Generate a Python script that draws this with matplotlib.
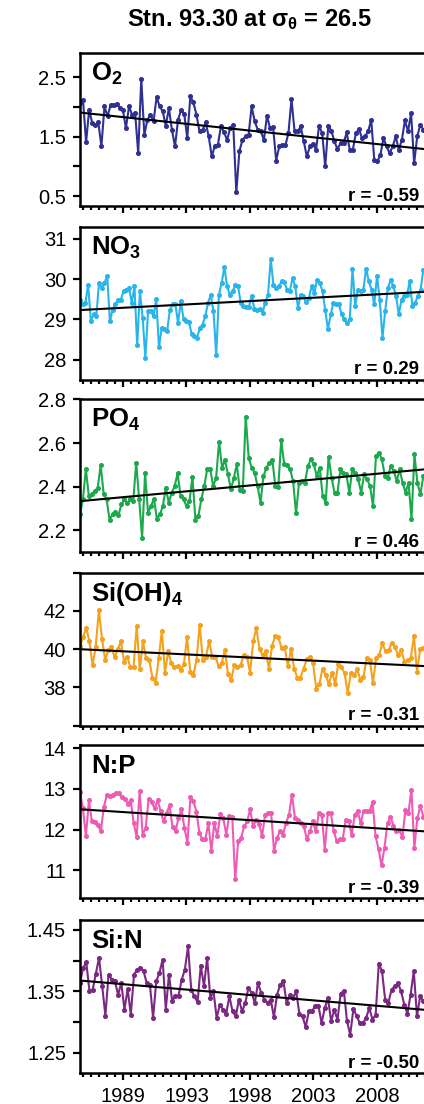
import matplotlib.pyplot as plt
import numpy as np

plt.rcParams['font.family'] = ['Liberation Sans', 'DejaVu Sans']
plt.rcParams['mathtext.default'] = 'regular'

# Valores (series trimestrales, Stn. 93.30, sigma_theta = 26.5)
o2 = [2.063, 2.119, 1.402, 1.951, 1.727, 1.699, 1.738, 1.335, 2.007, 1.839,
      2.035, 2.035, 2.052, 1.979, 1.951, 1.643, 2.007, 1.867, 1.895, 1.223,
      2.466, 1.531, 1.783, 1.867, 1.755, 2.164, 2.007, 1.923, 1.682, 1.979,
      1.615, 1.335, 1.783, 1.951, 1.884, 1.475, 2.175, 2.074, 1.867, 1.587,
      1.615, 1.738, 1.503, 1.167, 1.346, 1.363, 1.682, 1.570, 1.447, 1.643,
      1.699, 0.562, 1.251, 1.447, 1.503, 1.531, 2.007, 1.755, 1.615, 1.587,
      1.447, 1.850, 1.643, 1.654, 1.099, 1.335, 1.352, 1.352, 1.559, 2.130,
      1.587, 1.587, 1.671, 1.419, 1.167, 1.335, 1.380, 1.279, 1.682, 1.559,
      0.999, 1.682, 1.598, 1.419, 1.290, 1.391, 1.391, 1.570, 1.279, 1.279,
      1.559, 1.626, 1.475, 1.503, 1.587, 1.783, 1.111, 1.083, 1.195, 1.475,
      1.335, 1.223, 1.335, 1.503, 1.279, 1.447, 1.772, 1.587, 1.895, 1.055,
      1.503, 1.699, 1.615]

no3 = [29.49, 29.37, 29.41, 29.86, 28.97, 29.12, 29.09, 29.90, 29.78, 29.90,
       30.08, 28.95, 29.24, 29.37, 29.49, 29.49, 29.70, 29.74, 29.78, 29.41,
       29.82, 28.35, 29.70, 29.04, 28.05, 29.20, 29.20, 29.08, 29.51, 28.30,
       28.79, 28.75, 28.71, 29.23, 29.37, 29.37, 28.91, 29.45, 29.01, 28.97,
       28.93, 28.63, 28.58, 28.54, 28.79, 28.87, 29.08, 29.41, 29.61, 29.20,
       28.11, 29.61, 29.90, 30.30, 29.82, 29.61, 29.70, 29.84, 29.82, 29.41,
       29.33, 29.31, 29.31, 29.59, 29.26, 29.24, 29.26, 29.16, 29.41, 29.61,
       30.49, 29.86, 29.78, 29.82, 29.94, 29.92, 29.74, 29.70, 30.02, 29.82,
       29.28, 29.61, 29.57, 29.42, 29.53, 29.82, 29.65, 29.98, 29.90, 29.70,
       29.23, 28.75, 29.12, 29.41, 29.37, 29.37, 29.12, 29.00, 28.91, 29.00,
       30.26, 29.33, 29.74, 29.70, 29.74, 30.26, 29.94, 29.74, 29.37, 30.08,
       29.49, 28.54, 29.20, 29.78, 29.98, 29.82, 29.57, 29.12, 29.49, 29.59,
       29.61, 29.94, 29.33, 29.41, 29.57, 29.74, 30.23]

po4 = [2.273, 2.342, 2.482, 2.357, 2.365, 2.380, 2.395, 2.499, 2.368, 2.342,
       2.250, 2.273, 2.284, 2.269, 2.319, 2.342, 2.324, 2.342, 2.334, 2.510,
       2.342, 2.166, 2.461, 2.281, 2.311, 2.345, 2.253, 2.273, 2.311, 2.395,
       2.327, 2.373, 2.403, 2.461, 2.357, 2.342, 2.311, 2.334, 2.446, 2.250,
       2.266, 2.342, 2.403, 2.482, 2.482, 2.403, 2.441, 2.606, 2.487, 2.522,
       2.456, 2.388, 2.441, 2.502, 2.385, 2.380, 2.721, 2.533, 2.487, 2.464,
       2.403, 2.327, 2.449, 2.487, 2.510, 2.522, 2.403, 2.400, 2.612, 2.502,
       2.498, 2.479, 2.426, 2.278, 2.418, 2.426, 2.418, 2.495, 2.525, 2.502,
       2.449, 2.487, 2.357, 2.327, 2.537, 2.441, 2.373, 2.373, 2.482, 2.464,
       2.456, 2.373, 2.479, 2.464, 2.434, 2.373, 2.456, 2.434, 2.403, 2.311,
       2.540, 2.556, 2.525, 2.449, 2.441, 2.495, 2.472, 2.426, 2.479, 2.418,
       2.373, 2.418, 2.253, 2.548, 2.418, 2.365, 2.449]

sioh4 = [40.18, 40.63, 41.11, 40.41, 39.17, 40.14, 42.03, 40.53, 39.44, 39.96,
         40.11, 39.58, 40.00, 40.41, 39.35, 39.58, 39.08, 39.05, 41.20, 38.94,
         40.41, 39.52, 39.44, 38.52, 38.24, 39.52, 40.97, 38.77, 39.88, 39.26,
         39.05, 39.12, 38.91, 39.22, 40.63, 38.82, 38.64, 39.44, 41.29, 39.44,
         39.61, 40.41, 39.61, 39.61, 39.12, 39.26, 39.96, 38.70, 38.38, 39.17,
         39.08, 39.17, 39.70, 39.61, 38.78, 40.41, 41.11, 40.00, 39.70, 39.88,
         38.99, 40.18, 40.70, 40.63, 40.05, 40.11, 39.12, 40.00, 38.99, 38.52,
         38.52, 38.99, 39.47, 39.61, 39.26, 37.94, 38.17, 38.99, 38.64, 38.17,
         38.77, 38.20, 39.22, 39.08, 38.73, 37.71, 38.77, 38.64, 38.94, 38.41,
         38.56, 39.52, 39.44, 38.24, 39.52, 39.70, 40.32, 39.88, 39.96, 40.35,
         40.11, 39.70, 39.96, 39.35, 39.44, 39.52, 40.67, 38.82, 40.00, 40.05]

n_p = [12.92, 12.52, 11.84, 12.72, 12.20, 12.18, 12.12, 11.96, 12.56, 12.84,
       12.82, 12.86, 12.90, 12.90, 12.80, 12.76, 12.64, 12.72, 12.16, 11.82,
       12.94, 11.88, 12.04, 12.76, 12.68, 12.52, 12.72, 12.46, 12.20, 12.40,
       12.60, 12.06, 11.96, 12.28, 12.50, 12.04, 11.68, 12.80, 12.70, 12.44,
       11.92, 11.76, 11.76, 12.16, 11.48, 12.16, 11.84, 12.38, 12.28, 11.88,
       12.34, 12.32, 10.78, 11.72, 11.80, 12.08, 12.20, 12.50, 12.08, 12.24,
       12.14, 11.84, 12.36, 12.42, 12.42, 11.48, 11.80, 11.96, 11.88, 12.16,
       12.36, 12.86, 12.28, 12.24, 12.16, 12.08, 11.76, 11.96, 12.20, 11.96,
       12.40, 12.36, 11.50, 12.40, 12.40, 11.96, 11.72, 11.76, 11.76, 12.24,
       12.22, 11.86, 12.36, 12.46, 12.16, 12.46, 12.46, 12.46, 12.68, 11.84,
       11.52, 11.12, 11.56, 12.16, 12.30, 12.10, 11.96, 11.98, 11.82, 12.48,
       12.40, 12.98, 11.56, 12.28, 12.58, 12.32]

si_n = [1.3636, 1.3880, 1.3973, 1.3500, 1.3527, 1.3788, 1.4043, 1.3582, 1.3103, 1.3772,
        1.3690, 1.3663, 1.3446, 1.3636, 1.3201, 1.3538, 1.3120, 1.3772, 1.3853, 1.3880,
        1.3826, 1.3636, 1.3609, 1.3065, 1.3663, 1.3799, 1.4016, 1.3201, 1.3772, 1.3337,
        1.3429, 1.3429, 1.3690, 1.3853, 1.4234, 1.3527, 1.3418, 1.3321, 1.3918, 1.3582,
        1.4043, 1.3391, 1.3500, 1.3065, 1.3283, 1.3201, 1.3136, 1.3418, 1.3174, 1.3092,
        1.3364, 1.3174, 1.3310, 1.3554, 1.3473, 1.3310, 1.3636, 1.3473, 1.3364, 1.3310,
        1.3364, 1.3082, 1.3446, 1.3609, 1.3663, 1.3310, 1.3446, 1.3391, 1.3500, 1.3136,
        1.3092, 1.2918, 1.3174, 1.3174, 1.3266, 1.3266, 1.2984, 1.3228, 1.3391, 1.3011,
        1.3201, 1.3038, 1.3462, 1.3511, 1.3011, 1.2793, 1.3212, 1.3103, 1.2984, 1.2984,
        1.3065, 1.3228, 1.3038, 1.3120, 1.3951, 1.3826, 1.3364, 1.3310, 1.3527, 1.3582,
        1.3636, 1.3500, 1.3283, 1.3136, 1.3446, 1.3826, 1.3092, 1.3418, 1.3337]

# Rectas de tendencia (valor al inicio y al final de la serie) y coeficientes r
trend_o2 = [1.905, 1.293]
trend_no3 = [29.23, 29.68]
trend_po4 = [2.334, 2.479]
trend_sioh4 = [40.0, 39.12]
trend_np = [12.50, 11.96]
trend_sin = [1.3675, 1.320]
r_values = ['-0.59', '0.29', '0.46', '-0.31', '-0.39', '-0.50']

# Eje temporal
t_inicio = 1985.61
t_fin = 2012.65
major_ticks = [1989, 1994, 1999, 2004, 2009]
major_labels = ['1989', '1993', '1998', '2003', '2008']
minor_ticks = np.arange(1985.875, 2013.6, 0.625)

paneles = [
    ('O$_2$', o2, trend_o2, '#2E3192', (0.33, 2.9), [0.5, 1.0, 1.5, 2.0, 2.5], ['0.5', '', '1.5', '', '2.5']),
    ('NO$_3$', no3, trend_no3, '#29B5EC', (27.5, 31.3), [28, 29, 30, 31], ['28', '29', '30', '31']),
    ('PO$_4$', po4, trend_po4, '#1BA94C', (2.10, 2.80), [2.2, 2.4, 2.6, 2.8], ['2.2', '2.4', '2.6', '2.8']),
    ('Si(OH)$_4$', sioh4, trend_sioh4, '#F4A11E', (36, 44), [36, 38, 40, 42, 44], ['', '38', '40', '42', '']),
    ('N:P', n_p, trend_np, '#EE5BB5', (10.32, 14.08), [11, 12, 13, 14], ['11', '12', '13', '14']),
    ('Si:N', si_n, trend_sin, '#7A2882', (1.217, 1.466), [1.25, 1.30, 1.35, 1.40, 1.45], ['1.25', '', '1.35', '', '1.45']),
]

# Posicion vertical de cada panel (pixeles desde arriba)
tops_px = [53.3, 226.7, 399.3, 572.7, 745.0, 920.0]
alto_px = 153.0
W, H = 424, 1104

fig = plt.figure(figsize=(W / 100, H / 100), dpi=100)

for i, (nombre, valores, trend, color, ylim, yticks, ylabels) in enumerate(paneles):
    ax = fig.add_axes([80 / W, 1 - (tops_px[i] + alto_px) / H, 355.4 / W, alto_px / H])
    t = np.linspace(t_inicio, t_fin, len(valores))
    ax.plot(t, valores, '-o', color=color, linewidth=1.5, markersize=2.6)
    ax.plot([t_inicio, t_fin], trend, color='black', linewidth=1.5)
    ax.set_xlim(1985.614, 2013.6)
    ax.set_ylim(ylim)
    ax.set_yticks(yticks)
    ax.set_yticklabels(ylabels)
    ax.set_xticks(major_ticks)
    ax.set_xticks(minor_ticks, minor=True)
    if i == len(paneles) - 1:
        ax.set_xticklabels(major_labels)
    else:
        ax.set_xticklabels([])
    ax.spines['right'].set_visible(False)
    for s in ['left', 'top', 'bottom']:
        ax.spines[s].set_linewidth(1.8)
    ax.tick_params(axis='both', which='major', direction='out', length=5, width=1.6, labelsize=14.5, pad=5)
    ax.tick_params(axis='x', which='minor', direction='out', length=3, width=1.6)
    ax.tick_params(axis='y', which='minor', left=False)
    ax.text(0.031, 0.817, nombre, transform=ax.transAxes, fontsize=18.5, fontweight='bold', va='baseline')
    ax.text(0.954, 0.035, 'r = ' + r_values[i], transform=ax.transAxes, fontsize=13.5,
            fontweight='bold', ha='right', va='baseline')

fig.text(249 / W, 1 - 20 / H, r'Stn. 93.30 at $\sigma_\theta$ = 26.5', ha='center', va='center',
         fontsize=17, fontweight='bold')

plt.savefig('out.png', dpi=100)
